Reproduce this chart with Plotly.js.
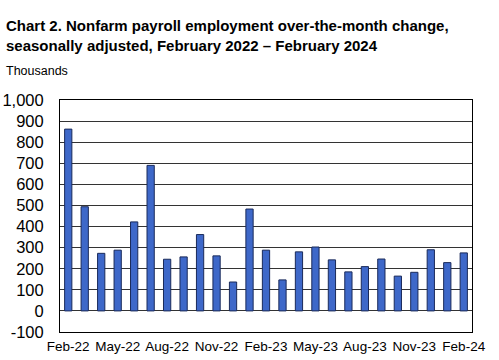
<!DOCTYPE html>
<html><head><meta charset="utf-8">
<script src="https://cdn.plot.ly/plotly-3.0.1.min.js"></script>
<style>html,body{margin:0;padding:0;background:#fff;}#chart{width:499px;height:360px;}</style>
</head><body><div id="chart"></div>
<script>
const months = ["Feb-22","Mar-22","Apr-22","May-22","Jun-22","Jul-22","Aug-22","Sep-22","Oct-22","Nov-22","Dec-22","Jan-23","Feb-23","Mar-23","Apr-23","May-23","Jun-23","Jul-23","Aug-23","Sep-23","Oct-23","Nov-23","Dec-23","Jan-24","Feb-24"];
const changes = [862,494,273,288,422,690,245,256,362,261,137,483,288,147,280,303,242,185,210,246,165,183,290,229,275];
const tickLabels = ["Feb-22","May-22","Aug-22","Nov-22","Feb-23","May-23","Aug-23","Nov-23","Feb-24"];
const yTicks = [-100,0,100,200,300,400,500,600,700,800,900,1000];
const yTickText = ["-100","0","100","200","300","400","500","600","700","800","900","1,000"];
const font = "Arial, 'Liberation Sans', sans-serif";
Plotly.newPlot("chart", [{
  type: "bar", x: months, y: changes,
  marker: {color: "#3e68c9", line: {color: "#1a2a5a", width: 1}},
  hoverinfo: "x+y"
}], {
  width: 499, height: 360,
  margin: {l: 60, r: 27, t: 100, b: 28},
  paper_bgcolor: "#fff", plot_bgcolor: "#fff",
  bargap: 0.56,
  showlegend: false,
  font: {family: font, color: "#000"},
  xaxis: {type: "category", tickmode: "array", tickvals: tickLabels, ticktext: tickLabels,
    showgrid: false, ticks: "", showline: true, linecolor: "#000", linewidth: 1, mirror: true,
    tickfont: {size: 13.5, family: font, color: "#000"}, ticklabelstandoff: 2},
  yaxis: {range: [-100, 1000], tickmode: "array", tickvals: yTicks, ticktext: yTickText,
    showgrid: true, gridcolor: "#333", gridwidth: 1, zeroline: false,
    showline: true, linecolor: "#000", linewidth: 1, mirror: true, ticks: "",
    tickfont: {size: 16.5, family: font, color: "#000"}, ticklabelstandoff: 12},
  annotations: [
    {text: "<b>Chart 2. Nonfarm payroll employment over-the-month change,<br>seasonally adjusted, February 2022 – February 2024</b>",
     xref: "paper", yref: "paper", x: -0.135, y: 1.0, xanchor: "left", yanchor: "bottom", align: "left",
     yshift: 44, showarrow: false, font: {size: 15, family: font, color: "#000"}},
    {text: "Thousands", xref: "paper", yref: "paper", x: -0.135, y: 1.0, xanchor: "left", yanchor: "bottom",
     yshift: 20, showarrow: false, font: {size: 12.5, family: font, color: "#000"}}
  ]
}, {displayModeBar: false, staticPlot: true});
</script></body></html>
